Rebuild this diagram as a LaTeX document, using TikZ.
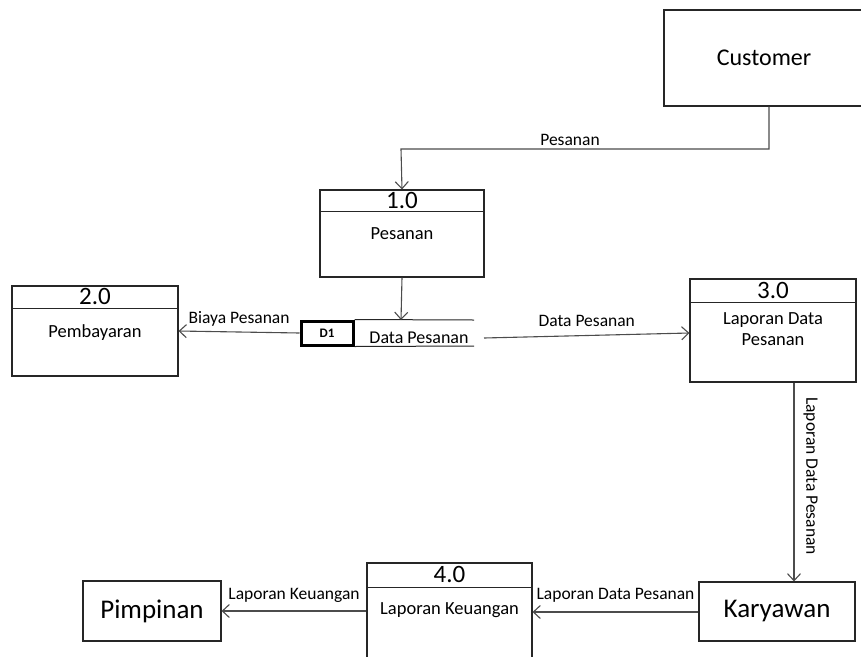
\documentclass[tikz,border=0pt]{standalone}
\usepackage{fontspec}
\setmainfont{Carlito}
\usetikzlibrary{positioning,arrows.meta}

\begin{document}
\begin{tikzpicture}[x=1pt, y=-1pt,
    box/.style={draw=black!85, line width=1.1pt, inner sep=0pt},
    ext/.style={box, font=\fontsize{27}{29}\selectfont},
    num/.style={inner sep=0pt, font=\fontsize{25}{27}\selectfont},
    txt/.style={inner sep=0pt, align=center, font=\fontsize{18.5}{21}\selectfont},
    lbl/.style={inner sep=0pt, font=\fontsize{17.5}{20}\selectfont},
    store/.style={draw=black, line width=3pt, minimum width=52, minimum height=24, inner sep=0pt, font=\bfseries\fontsize{13}{14}\selectfont},
    hline/.style={draw=black!85, line width=1.1pt},
    flow/.style={draw=black!70, line width=1.1pt, -{Straight Barb[length=7pt, width=13pt]}}
]
\clip (0,0) rectangle (861,656);

% external entities
\node[box, minimum width=200, minimum height=96, font=\fontsize{24}{26}\selectfont] (cust) at (764,58) {Customer};
\node[ext, minimum width=156, minimum height=59] (kary) at (777,611.5) {Karyawan};
\node[ext, minimum width=138, minimum height=60] (pimp) at (152,611) {Pimpinan};

% processes
\node[box, minimum width=164, minimum height=87] (p1) at (402,233.5) {};
\node[box, minimum width=166, minimum height=90] (p2) at (95,331) {};
\node[box, minimum width=166, minimum height=103] (p3) at (773,330.5) {};
\node[box, minimum width=165, minimum height=110] (p4) at (449.5,618) {};

\node[num] (n1) at ([yshift=-11]p1.north) {1.0};
\node[num] (n2) at ([yshift=-11.5]p2.north) {2.0};
\node[num] (n3) at ([yshift=-12]p3.north) {3.0};
\node[num] (n4) at ([yshift=-12.5]p4.north) {4.0};
\draw[hline] ([yshift=-22]p1.north west) -- ([yshift=-22]p1.north east);
\draw[hline] ([yshift=-23]p2.north west) -- ([yshift=-23]p2.north east);
\draw[hline] ([yshift=-24]p3.north west) -- ([yshift=-24]p3.north east);
\draw[hline] ([yshift=-25]p4.north west) -- ([yshift=-25]p4.north east);

\node[txt] (t1) at ([yshift=-44]p1.north) {Pesanan};
\node[txt] (t2) at ([yshift=-47]p2.north) {Pembayaran};
\node[txt] (t3) at ([yshift=-51]p3.north) {Laporan Data\\Pesanan};
\node[txt] (t4) at ([yshift=-48]p4.north) {Laporan Keuangan};

% data store
\node[store] (d1) at (327,333) {D1};
\coordinate (dtop) at (474,320);
\coordinate (dbot) at (474,346);
\coordinate (din) at (401,320);
\coordinate (dout) at (484,338);
\draw[hline, line width=1pt] (d1.north east) -- (dtop);
\draw[hline, line width=1pt] (d1.south east) -- (dbot);
\node[lbl, font=\fontsize{18}{20}\selectfont] (dname) at (419,338) {Data Pesanan};

% flows
\draw[flow] (cust.south -| 769,0) |- (401,149) -- (p1.north)
    node[lbl, pos=0, above=3pt, xshift=169] {Pesanan};
\draw[flow] (p1.south) -- (din);
\draw[flow] (d1.west) -- (p2.east) node[lbl, midway, above=5pt] {Biaya Pesanan};
\draw[flow] (dout) -- (p3.west |- 0,333) node[lbl, midway, above=8pt] {Data Pesanan};
\draw[flow] (p3.south -| 794,0) -- (kary.north -| 794,0)
    node[lbl, midway, right=9pt, yshift=6pt, rotate=-90, anchor=south] {Laporan Data Pesanan};
\draw[flow] (kary.west |- 0,612) -- (p4.east |- 0,612) node[lbl, midway, above=9pt] {Laporan Data Pesanan};
\draw[flow] (p4.west |- 0,611) -- (pimp.east |- 0,611) node[lbl, midway, above=8pt] {Laporan Keuangan};
\end{tikzpicture}
\end{document}
